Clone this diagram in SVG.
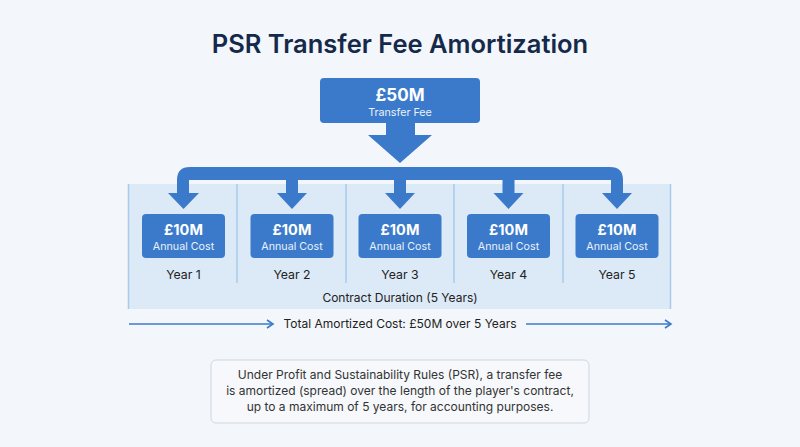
<svg xmlns="http://www.w3.org/2000/svg" width="800" height="447" viewBox="0 0 800 447">
<defs>
<style>
text{font-family:Inter,"Open Sans","Liberation Sans",sans-serif;}
.title{font-size:25.5px;font-weight:600;fill:#15294a;text-anchor:middle;}
.box{fill:#3b7acb;}
.big{font-size:17px;font-weight:700;fill:#fff;text-anchor:middle;}
.sub{font-size:10.7px;fill:#eaf2fb;text-anchor:middle;}
.card-big{font-size:14.5px;font-weight:700;fill:#fff;text-anchor:middle;}
.year{font-size:12.3px;fill:#222;text-anchor:middle;}
.lbl{font-size:12px;fill:#222;text-anchor:middle;}
.note{font-size:12px;fill:#333;text-anchor:middle;}
.div{stroke:#a9cbeb;stroke-width:1.5;}
.flow{fill:#3b7acb;}
.line{stroke:#3b7acb;stroke-width:1.6;fill:none;}
</style>
<marker id="open" markerWidth="10" markerHeight="10" refX="8" refY="5" orient="auto" markerUnits="userSpaceOnUse">
<path d="M2,1 L8,5 L2,9" fill="none" stroke="#3b7acb" stroke-width="1.6"/>
</marker>
</defs>
<rect width="800" height="447" fill="#f3f6fa"/>
<text class="title" x="400" y="53">PSR Transfer Fee Amortization</text>

<g id="container">
<rect x="128" y="184" width="543" height="125" fill="#dce9f6"/>
<line class="div" x1="128.5" y1="184" x2="128.5" y2="309"/>
<line class="div" x1="670.5" y1="184" x2="670.5" y2="309"/>
<line class="div" x1="237" y1="184" x2="237" y2="283"/>
<line class="div" x1="346" y1="184" x2="346" y2="283"/>
<line class="div" x1="454" y1="184" x2="454" y2="283"/>
<line class="div" x1="563" y1="184" x2="563" y2="283"/>
<text class="lbl" x="400" y="302">Contract Duration (5 Years)</text>
</g>

<g id="connectors">
<path class="flow" d="M386,123 H415 V135 H432 L400,163 L368,135 H386 Z"/>
<path class="flow" d="M177,209 V180 Q177,167 190,167 H610 Q623,167 623,180 V193 H632 L617,209 L602,193 H611 V180 H189 V193 H199 L183.5,209 L168,193 H177 Z"/>
<path class="flow" d="M286,180 H298 V193 H307 L292,209 L277,193 H286 Z"/>
<path class="flow" d="M394,180 H406 V193 H415 L400,209 L385,193 H394 Z"/>
<path class="flow" d="M502.5,180 H514.5 V193 H523.5 L508.5,209 L493.5,193 H502.5 Z"/>
<line class="line" x1="129" y1="324" x2="273" y2="324" marker-end="url(#open)"/>
<line class="line" x1="526" y1="324" x2="671" y2="324" marker-end="url(#open)"/>
</g>

<g id="transfer-fee">
<rect class="box" x="320" y="78" width="160" height="45" rx="4"/>
<text class="big" x="400" y="100.5">£50M</text>
<text class="sub" x="400" y="116">Transfer Fee</text>
</g>

<g id="year1">
<rect class="box" x="142" y="214" width="83" height="44" rx="4"/>
<text class="card-big" x="183.5" y="235">£10M</text>
<text class="sub" x="183.5" y="250">Annual Cost</text>
<text class="year" x="183.5" y="279">Year 1</text>
</g>
<g id="year2">
<rect class="box" x="250.5" y="214" width="83" height="44" rx="4"/>
<text class="card-big" x="292" y="235">£10M</text>
<text class="sub" x="292" y="250">Annual Cost</text>
<text class="year" x="292" y="279">Year 2</text>
</g>
<g id="year3">
<rect class="box" x="358.5" y="214" width="83" height="44" rx="4"/>
<text class="card-big" x="400" y="235">£10M</text>
<text class="sub" x="400" y="250">Annual Cost</text>
<text class="year" x="400" y="279">Year 3</text>
</g>
<g id="year4">
<rect class="box" x="467" y="214" width="83" height="44" rx="4"/>
<text class="card-big" x="508.5" y="235">£10M</text>
<text class="sub" x="508.5" y="250">Annual Cost</text>
<text class="year" x="508.5" y="279">Year 4</text>
</g>
<g id="year5">
<rect class="box" x="575.5" y="214" width="83" height="44" rx="4"/>
<text class="card-big" x="617" y="235">£10M</text>
<text class="sub" x="617" y="250">Annual Cost</text>
<text class="year" x="617" y="279">Year 5</text>
</g>

<g id="total-label">
<text class="lbl" x="400" y="328">Total Amortized Cost: £50M over 5 Years</text>
</g>

<g id="note">
<rect x="211" y="360" width="378" height="63" rx="5" fill="#f6f8fb" stroke="#cfd7e0" stroke-width="1"/>
<text class="note" x="400" y="379">Under Profit and Sustainability Rules (PSR), a transfer fee</text>
<text class="note" x="400" y="395">is amortized (spread) over the length of the player's contract,</text>
<text class="note" x="400" y="411">up to a maximum of 5 years, for accounting purposes.</text>
</g>
</svg>
